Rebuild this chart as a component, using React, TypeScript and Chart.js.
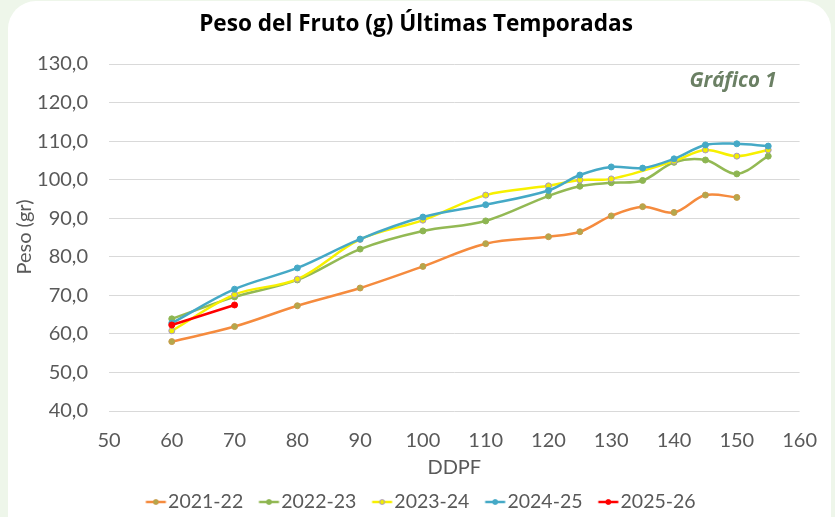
import React, { useEffect, useRef } from 'react';
import { Chart, registerables } from 'chart.js';

Chart.register(...registerables);

const ddpf = [60, 70, 80, 90, 100, 110, 120, 125, 130, 135, 140, 145, 150, 155];
const seriesNames = ['2021-22', '2022-23', '2023-24', '2024-25', '2025-26'];
const s2122 = [58.0, 61.9, 67.3, 71.9, 77.5, 83.4, 85.2, 86.5, 90.6, 93.0, 91.5, 96.0, 95.4, null];
const s2223 = [63.9, 69.6, 74.0, 82.0, 86.7, 89.3, 95.8, 98.3, 99.2, 99.8, 104.5, 105.1, 101.5, 106.1];
const s2324 = [60.8, 70.2, 74.2, 84.5, 89.5, 96.0, 98.4, 99.9, 100.2, null, 104.8, 107.7, 106.1, 107.7];
const s2425 = [62.8, 71.6, 77.1, 84.6, 90.3, 93.5, 97.2, 101.2, 103.3, 103.0, 105.4, 109.0, 109.3, 108.7];
const s2526 = [62.3, 67.5, null, null, null, null, null, null, null, null, null, null, null, null];
const yMin = 40;
const yMax = 130;
const yStep = 10;
const xMin = 50;
const xMax = 160;
const xStep = 10;
const titleText = 'Peso del Fruto (g) Últimas Temporadas';
const yTitle = 'Peso (gr)';
const xTitle = 'DDPF';
const badgeText = 'Gráfico 1';

const lineColors = ['#f58b3e', '#93b954', '#f7f000', '#45a9c6', '#ff0000'];
const pointFills = ['#b3a84c', '#8db552', '#f2ee00', '#45a9c6', '#ff0000'];
const pointBorders = ['#c99b4a', '#8db552', '#a796c4', '#45a9c6', '#ff0000'];

function makeMarker(line: string, fill: string, border: string) {
  const c = document.createElement('canvas');
  c.width = 40;
  c.height = 10;
  const ctx = c.getContext('2d')!;
  ctx.strokeStyle = line;
  ctx.lineWidth = 2.5;
  ctx.beginPath();
  ctx.moveTo(18.5, 5);
  ctx.lineTo(38.5, 5);
  ctx.stroke();
  ctx.beginPath();
  ctx.arc(28.5, 5, 2.5, 0, Math.PI * 2);
  ctx.fillStyle = fill;
  ctx.fill();
  ctx.strokeStyle = border;
  ctx.lineWidth = 1;
  ctx.stroke();
  return c;
}

const textDecor = {
  id: 'textDecor',
  afterDraw(chart: any) {
    const ctx = chart.ctx;
    ctx.save();
    ctx.textAlign = 'center';
    ctx.textBaseline = 'middle';
    ctx.font = 'bold 22.6px "Open Sans"';
    ctx.fillStyle = '#000000';
    ctx.fillText(titleText, 416, 25);
    ctx.font = 'italic bold 20.5px "Open Sans"';
    ctx.fillStyle = '#6b8064';
    ctx.fillText(badgeText, 733, 81);
    ctx.translate(25, 237);
    ctx.rotate(-Math.PI / 2);
    ctx.font = '20px Lato';
    ctx.fillStyle = '#595959';
    ctx.fillText(yTitle, 0, 0);
    ctx.restore();
  },
};

export default function App() {
  const ref = useRef<HTMLCanvasElement>(null);
  useEffect(() => {
    if (!ref.current) return;
    const all = [s2122, s2223, s2324, s2425, s2526];
    const datasets = all.map((arr, i) => ({
      label: seriesNames[i],
      data: ddpf.map((x, j) => ({ x, y: arr[j] })),
      borderColor: lineColors[i],
      backgroundColor: lineColors[i],
      pointBackgroundColor: pointFills[i],
      pointBorderColor: pointBorders[i],
      pointBorderWidth: 1,
      pointRadius: 3,
      borderWidth: 2.5,
      tension: 0.35,
      spanGaps: true,
      order: 5 - i,
    }));
    const markers = all.map((_, i) => makeMarker(lineColors[i], pointFills[i], pointBorders[i]));
    const chart = new Chart(ref.current, {
      type: 'line',
      data: { datasets },
      plugins: [textDecor],
      options: {
        animation: false,
        responsive: false,
        layout: { padding: { left: 26, right: 29, top: 64, bottom: -4.75 } },
        plugins: {
          title: { display: false },
          legend: {
            position: 'bottom',
            labels: {
              color: '#595959',
              font: { family: 'Lato', size: 19.5 },
              usePointStyle: true,
              pointStyleWidth: 22,
              boxHeight: 10,
              padding: 6.25,
              generateLabels: (ch: any) =>
                ch.data.datasets.map((d: any, i: number) => ({
                  text: d.label,
                  fillStyle: lineColors[i],
                  strokeStyle: lineColors[i],
                  fontColor: '#595959',
                  pointStyle: markers[i],
                  lineWidth: 0,
                  hidden: false,
                  datasetIndex: i,
                })),
            },
          },
          tooltip: { enabled: false },
        },
        scales: {
          x: {
            type: 'linear',
            min: xMin,
            max: xMax,
            ticks: { stepSize: xStep, color: '#595959', font: { family: 'Lato', size: 20 }, padding: 18 },
            grid: { display: false, drawTicks: false },
            border: { display: false },
            title: {
              display: true,
              text: xTitle,
              color: '#595959',
              font: { family: 'Lato', size: 20 },
              padding: { top: 0, bottom: 6 },
            },
            afterFit: (s: any) => {
              s.height = 75;
            },
          },
          y: {
            min: yMin,
            max: yMax,
            ticks: {
              stepSize: yStep,
              color: '#595959',
              font: { family: 'Lato', size: 20 },
              padding: 21,
              callback: (v: any) => Number(v).toFixed(1).replace('.', ','),
            },
            grid: { color: '#d9d9d9', lineWidth: 1, drawTicks: false },
            border: { display: false },
            title: { display: false },
            afterFit: (s: any) => {
              s.width = 83;
            },
          },
        },
      },
    } as any);
    return () => chart.destroy();
  }, []);
  return (
    <div style={{ position: 'fixed', left: 0, top: 0, width: 835, height: 517, background: '#eef6ea', overflow: 'hidden' }}>
      <div style={{ position: 'absolute', left: 8, top: 1, width: 823, height: 560, background: '#ffffff', borderRadius: 28 }} />
      <canvas ref={ref} width={835} height={517} style={{ position: 'absolute', left: 0, top: 0 }} />
    </div>
  );
}
